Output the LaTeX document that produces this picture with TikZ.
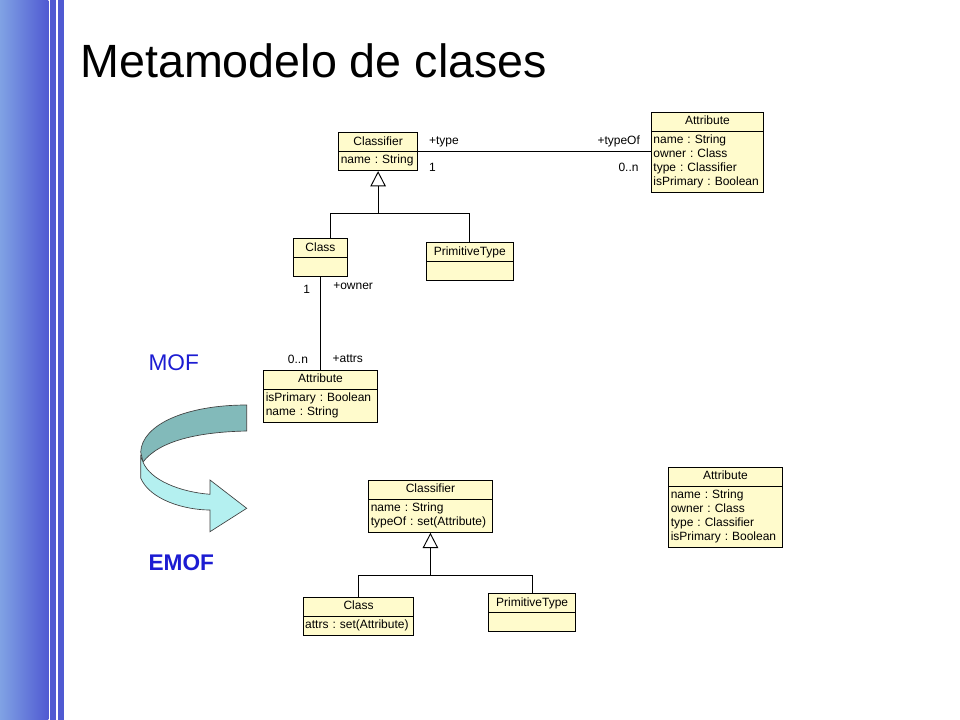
\documentclass[tikz,border=0pt]{standalone}
\usepackage{fontspec}
\setmainfont{Liberation Sans}
\usepackage{xcolor}
\usepackage{tikz}
\usetikzlibrary{shapes.multipart,arrows.meta,positioning}
\definecolor{umlfill}{RGB}{255,251,204}
\definecolor{barblue}{RGB}{80,90,210}
\definecolor{barlight}{RGB}{128,162,228}
\definecolor{mofblue}{RGB}{28,28,210}
\definecolor{ribbondark}{RGB}{130,186,186}
\definecolor{ribbonlight}{RGB}{180,240,240}
\def\umlfont{\fontsize{9}{10.5}\selectfont\frenchspacing}
\def\umlclass#1#2#3#4#5{\node [umlbox,text width=#2] (#1) at (#3) {\centering\strut #4\par\nodepart{second}\raggedright\strut #5\strut\par}}
\tikzstyle{umlbox}=[rectangle split,rectangle split parts=2,draw,line width=0.7pt,fill=umlfill,anchor=north west,inner xsep=1.5pt,inner ysep=1.5pt,font=\umlfont]
\tikzstyle{assoc}=[line width=0.7pt]
\tikzstyle{gen}=[line width=0.7pt,-{Triangle[open,length=11.5pt,width=11.7pt]}]
\tikzstyle{rolelbl}=[font=\umlfont,inner sep=1pt]
\tikzstyle{slidelbl}=[anchor=base west,inner sep=0pt,text=mofblue,font=\fontsize{17}{20}\selectfont]
\tikzstyle{ribbon}=[draw=black!75,line width=0.5pt]

\begin{document}
\begin{tikzpicture}[x=0.75pt,y=-0.75pt]
    \useasboundingbox (0,0) rectangle (960,720);
    \shade[left color=barlight,right color=barblue] (0,0) rectangle (48.3,720);
    \fill[barblue] (50,0) rectangle (55.7,720);
    \fill[barblue] (57.7,0) rectangle (63.7,720);
    \node[anchor=base west,inner sep=0pt,font=\fontsize{35}{42}\selectfont] (title) at (80,78) {Metamodelo de clases};

    % MOF
    \umlclass{cf1}{56pt}{338.3,132.3}{Classifier}{name : String};
    \umlclass{at1}{81pt}{651,111.7}{Attribute}{name : String\\owner : Class\\type : Classifier\\isPrimary : Boolean};
    \umlclass{cl1}{37pt}{293.3,238.3}{Class}{};
    \umlclass{pt1}{62.5pt}{425.7,242.3}{PrimitiveType}{};
    \umlclass{at2}{82pt}{263.3,370}{Attribute}{isPrimary : Boolean\\name : String};
    \draw[assoc] (cf1.text split east) -- (cf1.text split east -| at1.west)
        node[rolelbl,pos=0,above right=2.5pt and 7pt] {+type}
        node[rolelbl,pos=0,below right=7.5pt and 7pt] {1}
        node[rolelbl,pos=1,above left=2.5pt and 7pt] {+typeOf}
        node[rolelbl,pos=1,below left=7.5pt and 8pt] {0..n};
    \coordinate[below=32pt of cf1.south] (g1);
    \draw[gen] (g1) -- (cf1.south);
    \draw[assoc] ([xshift=7.5pt]cl1.north) |- (g1) -| (pt1.north);
    \draw[assoc] (cl1.south) -- (at2.north)
        node[rolelbl,pos=0,below left=4.5pt and 6.5pt] {1}
        node[rolelbl,pos=0,below right=3pt and 8.3pt] {+owner}
        node[rolelbl,pos=1,above left=3.5pt and 8pt] {0..n}
        node[rolelbl,pos=1,above right=4.5pt and 7.8pt] {+attrs};

    \node[slidelbl] (mof) at (148.3,370) {MOF};
    \path[ribbon,fill=ribbondark] (246.7,405) -- (246.7,431) .. controls (200,432) and (160,440) .. (143,462) -- (140.7,452) .. controls (142,425) and (185,405) .. (246.7,405) -- cycle;
    \path[ribbon,fill=ribbonlight] (140.7,456) -- (140.7,478) .. controls (150,500) and (185,510) .. (210,510) -- (210,531.7) -- (246.7,508.3) -- (210,480) -- (210,494.3) .. controls (180,492) and (150,480) .. (143,462) -- cycle;
    \node[slidelbl,font=\bfseries\fontsize{17}{20}\selectfont] (emof) at (148.3,570) {EMOF};

    % EMOF
    \umlclass{cf2}{89.5pt}{368.3,480}{Classifier}{name : String\\typeOf : set(Attribute)};
    \umlclass{cl2}{80pt}{302.7,596.7}{Class}{attrs : set(Attribute)};
    \umlclass{pt2}{62pt}{488.3,593.3}{PrimitiveType}{};
    \umlclass{at3}{82pt}{668.3,466.7}{Attribute}{name : String\\owner : Class\\type : Classifier\\isPrimary : Boolean};
    \coordinate[below=32pt of cf2.south] (g2);
    \draw[gen] (g2) -- (cf2.south);
    \draw[assoc] (cl2.north) |- (g2) -| (pt2.north);
\end{tikzpicture}
\end{document}
